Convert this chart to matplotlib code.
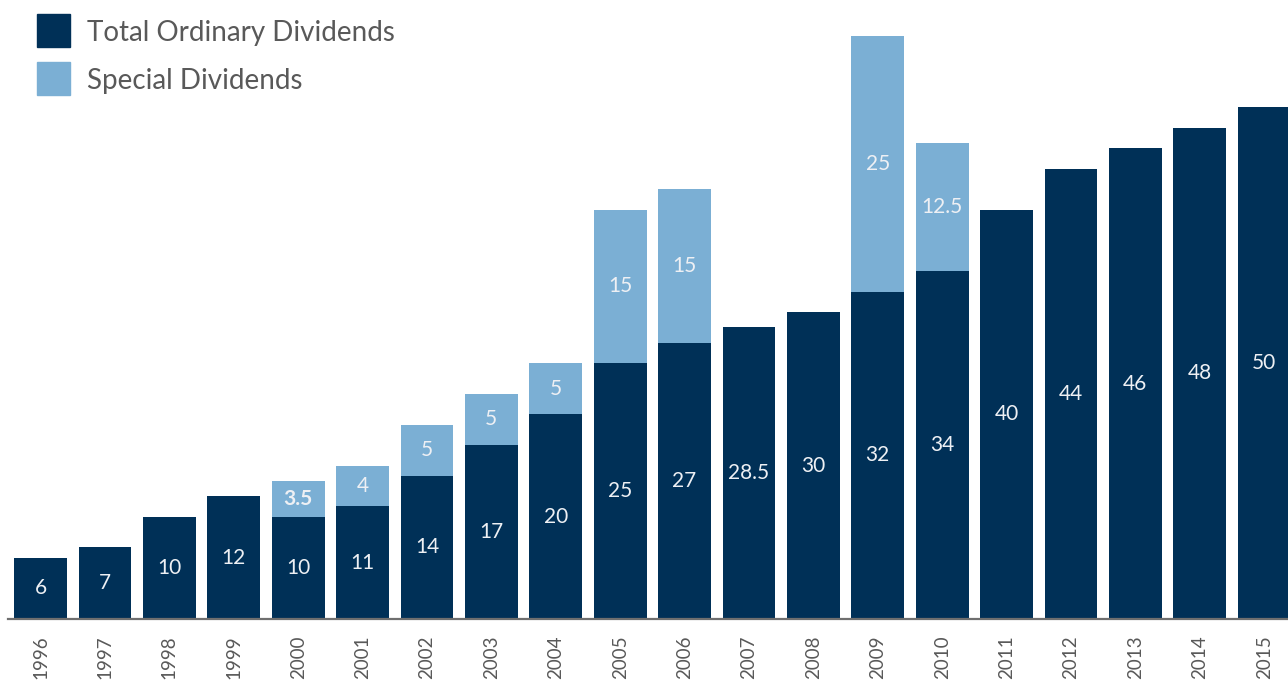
import matplotlib
matplotlib.use("Agg")
import matplotlib.pyplot as plt
import matplotlib.patches as patches

plt.rcParams['font.family'] = ['Lato', 'DejaVu Sans']

years = [str(y) for y in range(1996, 2016)]
ordinary = [6, 7, 10, 12, 10, 11, 14, 17, 20, 25, 27, 28.5, 30, 32, 34, 40, 44, 46, 48, 50]
special = [0, 0, 0, 0, 3.5, 4, 5, 5, 5, 15, 15, 0, 0, 25, 12.5, 0, 0, 0, 0, 0]

dark = '#003057'
light = '#7bafd4'
txt_col = '#595959'

fig = plt.figure(figsize=(12.88, 6.8), dpi=100)
ax = fig.add_axes([8 / 1288, 61 / 680, 1280 / 1288, 619 / 680])

x = list(range(len(years)))
ax.bar(x, ordinary, width=0.82, color=dark, zorder=2)
ax.bar(x, special, width=0.82, bottom=ordinary, color=light, zorder=2)

def fmt(v):
    return str(int(v)) if v == int(v) else str(v)

for i in x:
    ax.text(i, ordinary[i] / 2, fmt(ordinary[i]), ha='center', va='center',
            color='#eef0f4', fontsize=15)
    if special[i] > 0:
        w = 'bold' if special[i] == 3.5 else 'normal'
        ax.text(i, ordinary[i] + special[i] / 2, fmt(special[i]), ha='center',
                va='center', color='#eef0f4', fontsize=15, fontweight=w)

ax.set_xlim(-0.505, 19.37)
ax.set_ylim(0, 60.5)
ax.set_xticks(x)
ax.set_xticklabels(years, rotation=90, color=txt_col, fontsize=13.5)
ax.tick_params(axis='x', length=0, pad=12)
ax.set_yticks([])
for s in ['top', 'right', 'left']:
    ax.spines[s].set_visible(False)
ax.spines['bottom'].set_color('#6f6f6f')
ax.spines['bottom'].set_linewidth(1.6)

# legend
for yy, c, lab in [(14, dark, 'Total Ordinary Dividends'), (62, light, 'Special Dividends')]:
    fig.patches.append(patches.Rectangle((37 / 1288, 1 - (yy + 33) / 680), 33 / 1288, 33 / 680,
                                         transform=fig.transFigure, color=c))
    fig.text(87 / 1288, 1 - (yy + 19) / 680, lab, ha='left', va='center',
             color=txt_col, fontsize=20)

fig.savefig('out.png', dpi=100)
